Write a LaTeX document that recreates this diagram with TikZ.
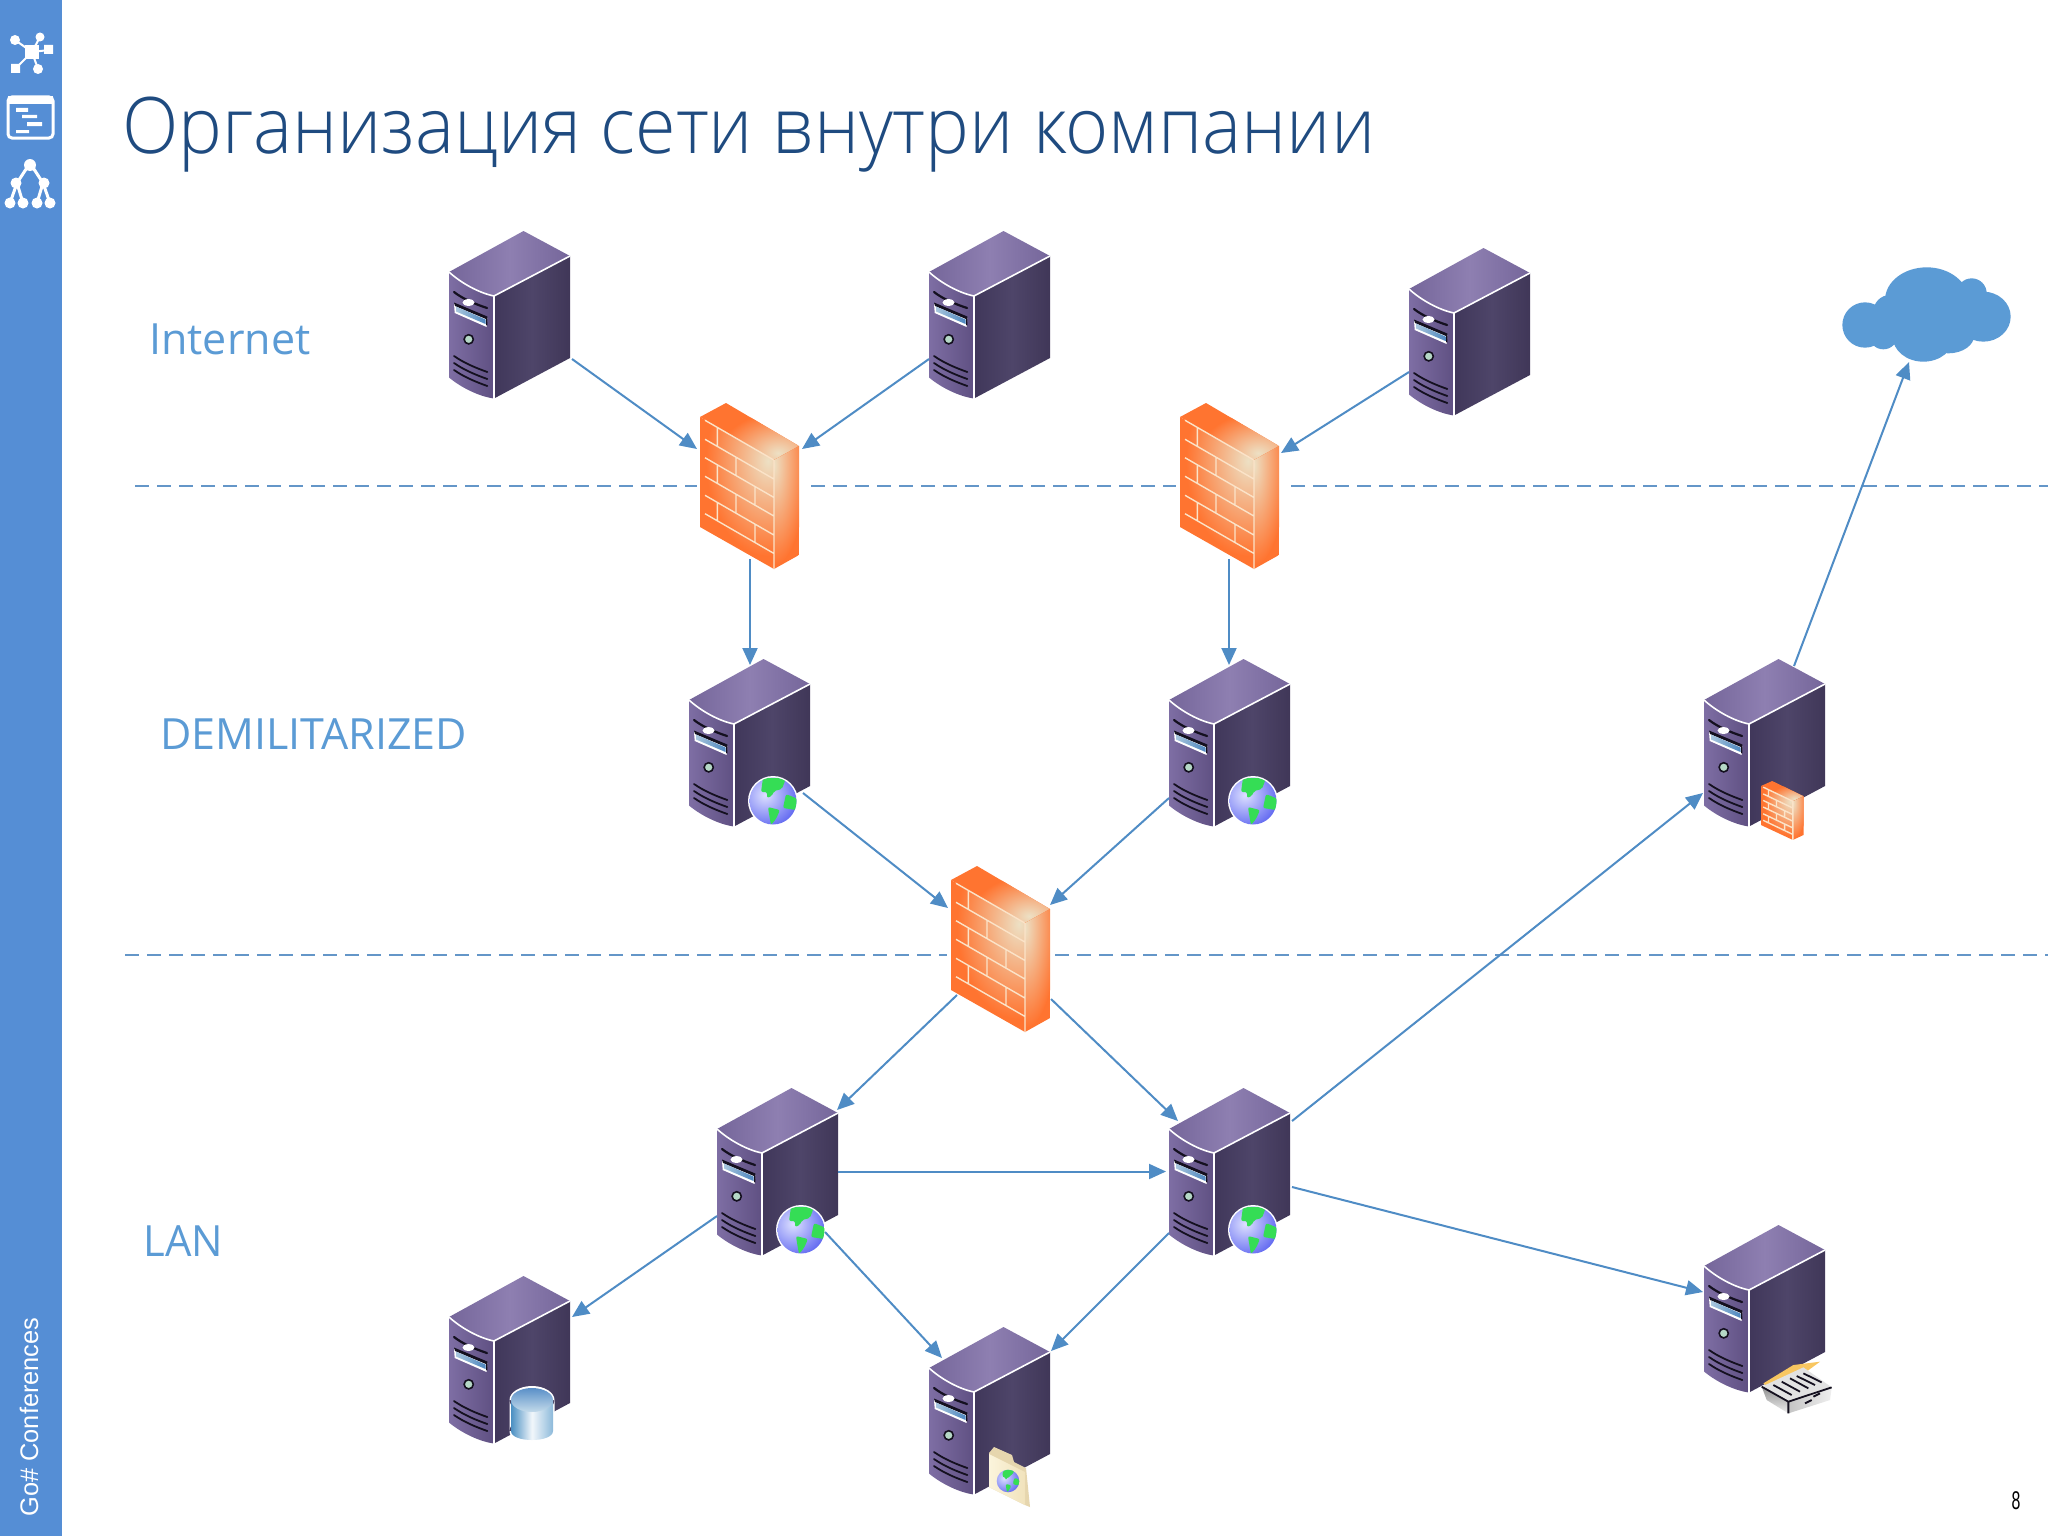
\documentclass[tikz,border=0pt]{standalone}
\usepackage{fontspec}
\setmainfont{Open Sans}
\newfontfamily\titlefont{Open Sans Light}
\newfontfamily\sidefont{Liberation Sans}
\usetikzlibrary{arrows.meta,calc}
\definecolor{barblue}{HTML}{558ED5}
\definecolor{labelblue}{HTML}{5B9BD5}
\definecolor{linkblue}{HTML}{4F8CC5}
\definecolor{dashblue}{HTML}{6496C8}
\definecolor{titleblue}{HTML}{1F4B80}
\definecolor{ink}{HTML}{14101F}
\definecolor{brickor}{HTML}{FF7430}
\definecolor{brickpale}{HTML}{EDE0C4}
\definecolor{mortar}{HTML}{FBE3C8}
\definecolor{globegreen}{HTML}{35DD55}
\definecolor{topa}{HTML}{75669A}
\definecolor{topb}{HTML}{8E7FB1}
\definecolor{topc}{HTML}{75669A}
\definecolor{fronta}{HTML}{7E6EA4}
\definecolor{frontb}{HTML}{5F5082}
\definecolor{sidea}{HTML}{40375A}
\definecolor{sideb}{HTML}{4E4569}
\definecolor{sidec}{HTML}{403758}
\definecolor{bayb}{HTML}{4D86BE}
\definecolor{bayl}{HTML}{A9C7DE}
\definecolor{knob}{HTML}{B5D8C6}
\definecolor{ballin}{HTML}{DDE0FF}
\definecolor{ballout}{HTML}{4A52EE}
\definecolor{cana}{HTML}{4A8FC2}
\definecolor{canb}{HTML}{F2F7FB}
\definecolor{canc}{HTML}{8CB9DA}
\definecolor{cand}{HTML}{5A90C8}
\definecolor{cane}{HTML}{C3DAEA}
\definecolor{folda}{HTML}{E6D6AE}
\definecolor{foldb}{HTML}{FBF4DC}
\definecolor{foldc}{HTML}{F1E3BC}
\definecolor{paper}{HTML}{F8C660}
\definecolor{graya}{HTML}{8F8F8F}
\definecolor{grayb}{HTML}{EFEFEF}
\definecolor{grayc}{HTML}{C4C4C4}
\definecolor{grayd}{HTML}{E2E2E2}
\tikzset{
  x=0.5pt,y=-0.5pt,
  srvbox/.style={inner sep=0pt,outer sep=0pt,minimum width=60.5pt,minimum height=83.5pt,anchor=north west},
  fwbox/.style={inner sep=0pt,outer sep=0pt,minimum width=49.5pt,minimum height=83pt,anchor=north west},
  cloudbox/.style={inner sep=0pt,outer sep=0pt,minimum width=84.5pt,minimum height=47.5pt,anchor=north west},
  conn/.style={draw=linkblue,line width=1pt,-{Triangle[length=8.5pt,width=7.5pt]}},
  zoneline/.style={draw=dashblue,line width=0.9pt,dash pattern=on 7pt off 4pt},
  zonelabel/.style={text=labelblue,inner sep=0pt,anchor=base west,font=\fontsize{21.5}{26}\selectfont},
  srv/.pic={
    \shade[left color=topa,right color=topc,middle color=topb]
      (0,41) .. controls (12,52) and (30,62) .. (45,65) -- (121,25) -- (74.5,0) -- cycle;
    \shade[left color=fronta,right color=frontb]
      (0,41) .. controls (12,52) and (30,62) .. (45,65) -- (45,167.5) .. controls (30,165.5) and (12,156.5) .. (0,146.5) -- cycle;
    \shade[left color=sidea,right color=sidec,middle color=sideb]
      (45,65) -- (121,25) -- (121,127) -- (45,167.5) -- cycle;
    \draw[white,line width=0.8pt] (0,41) .. controls (12,52) and (30,62) .. (45,65) -- (121,25);
    \draw[white,line width=0.8pt] (45,65) -- (45,167.5);
    \draw[ink,line width=1.1pt,line cap=round] (5,61) .. controls (14,68) and (26,73) .. (38,77);
    \fill[white] (19.5,71.5) ellipse (6 and 3.4);
    \fill[white] (5,73) -- (38.3,87) -- (37.6,96) -- (5.7,82) -- cycle;
    \fill[ink] (5,71.5) -- (38.3,85.5) -- (38.3,94.5) -- (37,94) -- (37,88) -- (6,75) -- cycle;
    \shade[left color=bayl,right color=bayb] (7,75.5) -- (36.5,88.5) -- (36.5,93) -- (7,80.5) -- cycle;
    \draw[ink,fill=knob,line width=0.8pt] (19.7,108.3) circle (4.6);
    \draw[ink,line width=0.9pt,line cap=round] (5,125) .. controls (15,132) and (27,137) .. (38.3,141);
    \draw[ink,line width=0.9pt,line cap=round] (5,132) .. controls (15,139) and (27,144) .. (38.3,148);
    \draw[ink,line width=0.9pt,line cap=round] (5,139) .. controls (15,146) and (27,151) .. (38.3,155);
  },
  fw/.pic={
    \begin{scope}
      \clip (0,14) -- (26,0) -- (99,43) -- (74,57) -- cycle;
      \fill[brickor] (0,0) rectangle (99,57);
      \shade[inner color=brickpale,outer color=brickor] (78,50) ellipse (58 and 40);
    \end{scope}
    \begin{scope}
      \clip (0,14) -- (74,57) -- (74,166) -- (0,124) -- cycle;
      \fill[brickor] (0,0) rectangle (99,170);
      \shade[inner color=brickpale,outer color=brickor] (68,58) ellipse (62 and 95);
    \end{scope}
    \begin{scope}
      \clip (74,57) -- (99,43) -- (99,152) -- (74,166) -- cycle;
      \fill[brickor] (70,40) rectangle (99,170);
      \shade[inner color=brickpale,outer color=brickor] (74,62) ellipse (32 and 100);
    \end{scope}
    \draw[mortar,line width=0.7pt]
      (5,17.3) -- (73.5,56.8) (5,36.3) -- (73.5,75.8) (5,54.7) -- (73.5,94.2)
      (5,73.3) -- (73.5,112.8) (5,92.3) -- (73.5,131.8) (5,110.7) -- (73.5,150.2)
      (17.3,24.4) -- (17.3,43.4) (36,54.2) -- (36,72.6) (17.3,61.8) -- (17.3,80.4)
      (55,83.6) -- (55,102.2) (36,91) -- (36,110) (17.3,99.4) -- (17.3,117.8)
      (55,121.2) -- (55,139.6) (74,57) -- (74,166);
  },
  globe/.pic={
    \fill[white] (0,0) circle (25);
    \begin{scope}
      \clip (0,0) circle (23.5);
      \shade[inner color=ballin,outer color=ballout] (-8,-6) circle (40);
      \fill[globegreen,rounded corners=1pt] (-10,-23) -- (13,-23) -- (9,-12) -- (1,-10) -- (-1,-5) -- (-6,-3) -- (-6,-9) -- (-12,-9) -- cycle;
      \fill[globegreen,rounded corners=1pt] (13,-7) -- (25,-2) -- (23,9) -- (10,7) -- cycle;
      \fill[globegreen,rounded corners=1pt] (-5,6) -- (7,9) -- (3,18) -- (-2,24) -- (-4,13) -- cycle;
    \end{scope}
  },
  can/.pic={
    \fill[white] (0,0) ellipse (22.5 and 14) (-22.5,0) rectangle (22.5,31) (0,31) ellipse (22.5 and 14);
    \shade[left color=cana,right color=canc,middle color=canb]
      (-21,0) -- (21,0) -- (21,31) .. controls (21,43) and (-21,43) .. (-21,31) -- cycle;
    \shade[top color=cand,bottom color=cane] (0,0) ellipse (21 and 12);
  },
  folderweb/.pic={
    \fill[folda] (60,126) -- (65,120) -- (83,128) -- (85,135) -- (97,141) -- (101,180) -- (96,178) -- (60,160) -- cycle;
    \shade[left color=foldb,right color=foldc] (60,127) -- (96,145) -- (96,178) -- (60,160) -- cycle;
    \begin{scope}[shift={(79,154)},scale=0.48]
      \clip (0,0) circle (23.5);
      \shade[inner color=ballin,outer color=ballout] (-8,-6) circle (40);
      \fill[globegreen,rounded corners=1pt] (-10,-23) -- (13,-23) -- (9,-12) -- (1,-10) -- (-1,-5) -- (-6,-3) -- (-6,-9) -- (-12,-9) -- cycle;
      \fill[globegreen,rounded corners=1pt] (13,-7) -- (25,-2) -- (23,9) -- (10,7) -- cycle;
      \fill[globegreen,rounded corners=1pt] (-5,6) -- (7,9) -- (3,18) -- (-2,24) -- (-4,13) -- cycle;
    \end{scope}
  },
  tapeunit/.pic={
    \begin{scope}[shift={(46,125)},scale=1/3]
      \fill[paper] (40,100) -- (130,45) -- (210,35) -- (165,68) -- (55,112) -- cycle;
      \shade[top color=graya,bottom color=grayb] (35,110) -- (115,155) -- (115,190) -- (50,150) -- cycle;
      \shade[left color=grayc,right color=grayb] (115,155) -- (245,112) -- (240,150) -- (115,190) -- cycle;
      \fill[grayd] (35,110) -- (160,52) -- (245,112) -- (115,155) -- cycle;
      \draw[ink,line width=0.9pt] (35,110) -- (115,155) -- (245,112) (115,155) -- (115,190);
      \draw[ink,line width=0.9pt]
        (70,105) -- (125,135) (95,95) -- (150,125) (120,85) -- (175,115) (140,78) -- (195,105) (160,70) -- (215,97)
        (165,160) -- (185,150) (190,140) -- (210,130);
    \end{scope}
  }
}
\begin{document}
\begin{tikzpicture}
\useasboundingbox (0,0) rectangle (2048,1536);
\fill[white] (0,0) rectangle (2048,1536);
\fill[barblue] (0,0) rectangle (62,1536);
% sidebar icons
\draw[white,line width=1pt] (32,52) -- (15,40) (32,52) -- (40,37) (32,52) -- (49,50) (32,52) -- (15,69) (32,52) -- (38,69);
\fill[white] (25,45) rectangle (39,59);
\fill[white] (15,40) circle (5) (40,37) circle (4.5) (38,69) circle (5);
\fill[white] (44,45) rectangle (53,54) (11,64) rectangle (20,73);
\draw[white,line width=1.5pt,rounded corners=2pt] (8,97) rectangle (53,138);
\fill[white] (8,96) rectangle (53,104);
\fill[white] (16,108) rectangle (28,112) (22,115) rectangle (37,118) (27,122) rectangle (42,126) (16,130) rectangle (29,133);
\draw[white,line width=1.5pt] (30,163) -- (17,183) -- (10,203) (17,183) -- (23,203) (30,163) -- (43,183) -- (37,203) (43,183) -- (50,203);
\fill[white] (30,165) circle (6) (16,183) circle (5.5) (44,183) circle (5.5) (10,203) circle (5.5) (23,203) circle (5.5) (37,203) circle (5.5) (50,203) circle (5.5);
\node[text=white,rotate=90,inner sep=0pt,anchor=base west,font=\sidefont\fontsize{12.7}{15}\selectfont] (brand) at (38,1517) {Go\# Conferences};
% title and zone labels
\node[text=titleblue,inner sep=0pt,anchor=base west,font=\titlefont\fontsize{39}{48}\selectfont] (title) at (122,153) {\scalebox{.945}[1]{Организация сети внутри компании}};
\node[zonelabel] (zinternet) at (149,354) {Internet};
\node[zonelabel] (zdmz) at (160,749) {DEMILITARIZED};
\node[zonelabel] (zlan) at (143,1256) {\scalebox{.97}[1]{LAN}};
\node[inner sep=0pt,text=black,font=\sidefont\fontsize{12.8}{15}\selectfont] (pageno) at (2016,1501) {\scalebox{.62}[1]{8}};
% zone dividers
\draw[zoneline] (135,486) -- (697,486) (811,486) -- (1176,486) (1291,486) -- (2048,486);
\draw[zoneline] (125,955) -- (947,955) (1055,955) -- (2048,955);
% servers
\foreach \n/\x/\y in {s1/449/231,s2/929/231,s3/1409/248,d1/689/659,d2/1169/659,d3/1704/659,l1/717/1088,l2/1169/1088,db/449/1276,w/929/1327,p/1704/1225}{
  \pic at (\x,\y) {srv};
  \node[srvbox] (\n) at (\x,\y) {};
}
\foreach \n/\x/\y in {f1/700/403,f2/1180/403,f3/951/866}{
  \pic at (\x,\y) {fw};
  \node[fwbox] (\n) at (\x,\y) {};
}
% badges
\pic at (773,801) {globe};
\pic at (1253,801) {globe};
\pic at (801,1230) {globe};
\pic at (1253,1230) {globe};
\pic[xscale=.43,yscale=.355] at (1761,781) {fw};
\pic at (532,1400) {can};
\pic at (929,1327) {folderweb};
\pic at (1704,1225) {tapeunit};
% cloud
\node[cloudbox] (cloud) at (1842,267) {};
\begin{scope}[shift={(1820,250)},scale=1/3]
\fill[labelblue] (135,225) circle (68) (190,255) circle (43) (210,185) circle (50)
  (320,150) ellipse (125 and 98) (490,200) ellipse (82 and 75) (455,130) circle (45)
  (310,260) ellipse (92 and 75) (385,255) ellipse (78 and 55);
\end{scope}
% connectors
\newcommand\linkto[6]{\draw[conn] ([shift={(#2,#3)}]#1.north west) -- ([shift={(#5,#6)}]#4.north west);}
\linkto{s1}{123}{128}{f1}{-3}{46}
\linkto{s2}{0}{128}{f1}{102}{46}
\linkto{s3}{0}{124}{f2}{101}{50}
\linkto{f1}{50}{156}{d1}{61}{6}
\linkto{f2}{49}{156}{d2}{60}{6}
\linkto{d1}{114}{134}{f3}{-3}{42}
\linkto{d2}{0}{139}{f3}{99}{39}
\linkto{f3}{6}{129}{l1}{120}{22}
\linkto{f3}{100}{133}{l2}{9}{33}
\linkto{l1}{121}{83.5}{l2}{-3}{83.5}
\linkto{l2}{123}{33}{d3}{-1}{134}
\linkto{d3}{90}{7}{cloud}{67}{95}
\linkto{l1}{0}{128}{db}{123}{41}
\linkto{l1}{108}{144}{w}{13}{31}
\linkto{l2}{0}{145}{w}{122}{24}
\linkto{l2}{123}{99}{p}{-1}{67}
\end{tikzpicture}
\end{document}
